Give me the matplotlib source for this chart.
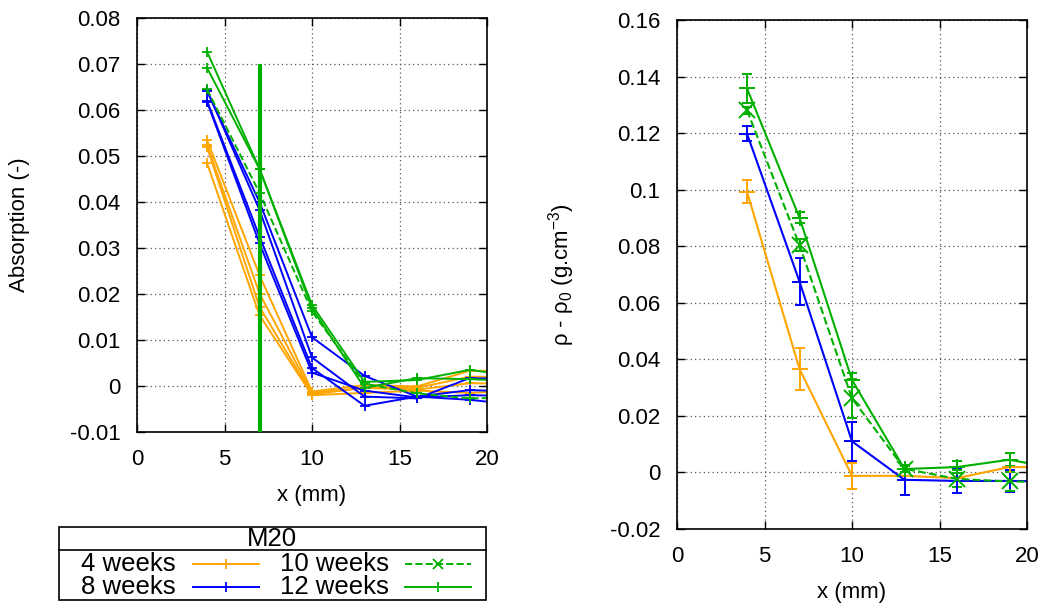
import matplotlib
matplotlib.use("Agg")
import matplotlib.pyplot as plt

plt.rcParams['font.family'] = ['Liberation Sans', 'DejaVu Sans']
plt.rcParams['font.size'] = 16

ORANGE = '#ffa500'
BLUE = '#0000ff'
GREEN = '#00b000'

# left panel: absorption profiles, one list per sample
x_abs = [4, 7, 10, 13, 16, 19, 22]
abs_4w = [
    [0.0535, 0.0241, -0.0012, 0.0002, -0.0001, 0.0033, 0.0033],
    [0.0524, 0.0201, -0.0015, -0.0004, -0.0004, 0.0020, 0.0020],
    [0.0520, 0.0172, -0.0018, -0.0004, -0.0008, 0.0006, 0.0005],
    [0.0485, 0.0154, -0.0020, -0.0015, -0.0010, -0.0015, -0.0010],
]
abs_8w = [
    [0.0641, 0.0400, 0.0106, 0.0022, -0.0023, -0.0009, -0.0012],
    [0.0643, 0.0383, 0.0062, -0.0023, -0.0027, 0.0017, 0.0015],
    [0.0620, 0.0325, 0.0039, -0.0043, -0.0023, -0.0030, -0.0042],
    [0.0618, 0.0310, 0.0029, -0.0010, -0.0025, -0.0020, -0.0022],
]
abs_10w = [
    [0.0645, 0.0420, 0.0162, 0.0005, -0.0016, -0.0027, -0.0025],
]
abs_12w = [
    [0.0727, 0.0472, 0.0176, 0.0009, 0.0013, 0.0035, 0.0020],
    [0.0692, 0.0472, 0.0169, -0.0004, 0.0017, 0.0015, 0.0010],
]
vline_x = 7
vline_top = 0.070

# right panel: density difference with error bars
x_rho = [4, 7, 10, 13, 16, 19, 22]
rho_4w = [0.0993, 0.0366, -0.0012, -0.0012, -0.0020, 0.0019, 0.0019]
err_4w = [0.0041, 0.0075, 0.0045, 0.0, 0.0, 0.0, 0.0]
rho_8w = [0.1198, 0.0675, 0.0110, -0.0026, -0.0030, -0.0030, -0.0032]
err_8w = [0.0027, 0.0082, 0.0070, 0.0053, 0.0041, 0.0040, 0.0]
rho_10w = [0.1281, 0.0804, 0.0262, 0.0013, -0.0023, -0.0032, -0.0034]
err_10w = [0.0012, 0.0020, 0.0070, 0.0012, 0.0030, 0.0032, 0.0]
rho_12w = [0.1358, 0.0901, 0.0327, 0.0012, 0.0019, 0.0045, 0.0010]
err_12w = [0.0050, 0.0020, 0.0025, 0.0012, 0.0022, 0.0023, 0.0]

legend_labels = ['4 weeks', '8 weeks', '10 weeks', '12 weeks']
legend_title = 'M20'

W, H = 1044, 606
fig = plt.figure(figsize=(W / 100, H / 100), dpi=100)


def px_axes(x0, y0, x1, y1):
    return fig.add_axes([x0 / W, 1 - y1 / H, (x1 - x0) / W, (y1 - y0) / H])


def style(ax):
    ax.grid(True, linestyle=(0, (1, 2.5)), color='#555555', linewidth=0.9)
    ax.tick_params(direction='in', top=True, right=True, length=6, width=1, pad=12)
    for s in ax.spines.values():
        s.set_linewidth(1.2)
    ax.set_xlim(0, 20)
    ax.set_xticks([0, 5, 10, 15, 20])
    ax.set_xlabel('x (mm)')


ax1 = px_axes(137, 18, 487, 432)
style(ax1)
for series, c, ls in [(abs_4w, ORANGE, '-'), (abs_8w, BLUE, '-'),
                      (abs_10w, GREEN, '--'), (abs_12w, GREEN, '-')]:
    for ys in series:
        ax1.plot(x_abs, ys, color=c, ls=ls, lw=1.4, marker='+', ms=7, mew=1.3)
ax1.vlines(vline_x, -0.02, vline_top, color=GREEN, lw=3, zorder=3)
ax1.set_ylim(-0.01, 0.08)
ax1.set_yticks([i / 100 for i in range(-1, 9)])
ax1.set_yticklabels(['-0.01', '0', '0.01', '0.02', '0.03', '0.04', '0.05', '0.06', '0.07', '0.08'])
ax1.set_ylabel('Absorption (-)')
ax1.yaxis.set_label_coords(-0.305, 0.5)
ax1.xaxis.set_label_coords(0.5, -0.128)

ax2 = px_axes(677, 20, 1027, 529)
style(ax2)
for ys, es, c, ls, mk in [(rho_4w, err_4w, ORANGE, '-', '+'), (rho_8w, err_8w, BLUE, '-', '+'),
                          (rho_10w, err_10w, GREEN, '--', 'x'), (rho_12w, err_12w, GREEN, '-', '+')]:
    ax2.errorbar(x_rho, ys, yerr=es, color=c, ls=ls, lw=1.5, marker=mk, ms=12, mew=1.4,
                 capsize=3.5, elinewidth=1.4, capthick=1.4)
ax2.set_ylim(-0.02, 0.16)
ax2.set_yticks([i / 100 for i in range(-2, 17, 2)])
ax2.set_yticklabels(['-0.02', '0', '0.02', '0.04', '0.06', '0.08', '0.1', '0.12', '0.14', '0.16'])
ax2.set_ylabel(r'$\mathregular{\rho}$ - $\mathregular{\rho_0}$ (g.cm$\mathregular{^{-3}}$)')
ax2.yaxis.set_label_coords(-0.286, 0.5)
ax2.xaxis.set_label_coords(0.5, -0.104)

# legend box drawn in pixel coordinates, gnuplot style
lg = fig.add_axes([0, 0, 1, 1], facecolor='none')
lg.set_xlim(0, W)
lg.set_ylim(H, 0)
lg.axis('off')
lg.add_patch(plt.Rectangle((59, 527), 427, 73, fill=False, lw=1.2, color='black'))
lg.plot([59, 486], [550, 550], color='black', lw=1.2)
lg.text(272, 539, legend_title, ha='center', va='center', fontsize=18.5)
entries = [(legend_labels[0], ORANGE, '-', '+', 176, 564, 193),
           (legend_labels[1], BLUE, '-', '+', 176, 587, 193),
           (legend_labels[2], GREEN, '--', 'x', 389, 564, 405),
           (legend_labels[3], GREEN, '-', '+', 389, 587, 405)]
for lab, c, ls, mk, tx, ty, lx in entries:
    lg.text(tx, ty, lab, ha='right', va='center', fontsize=18.5)
    lg.plot([lx, lx + 66], [ty, ty], color=c, ls=ls, lw=1.4)
    lg.plot([lx + 33], [ty], color=c, marker=mk, ms=7, mew=1.3)

fig.savefig('out.png', dpi=100)
